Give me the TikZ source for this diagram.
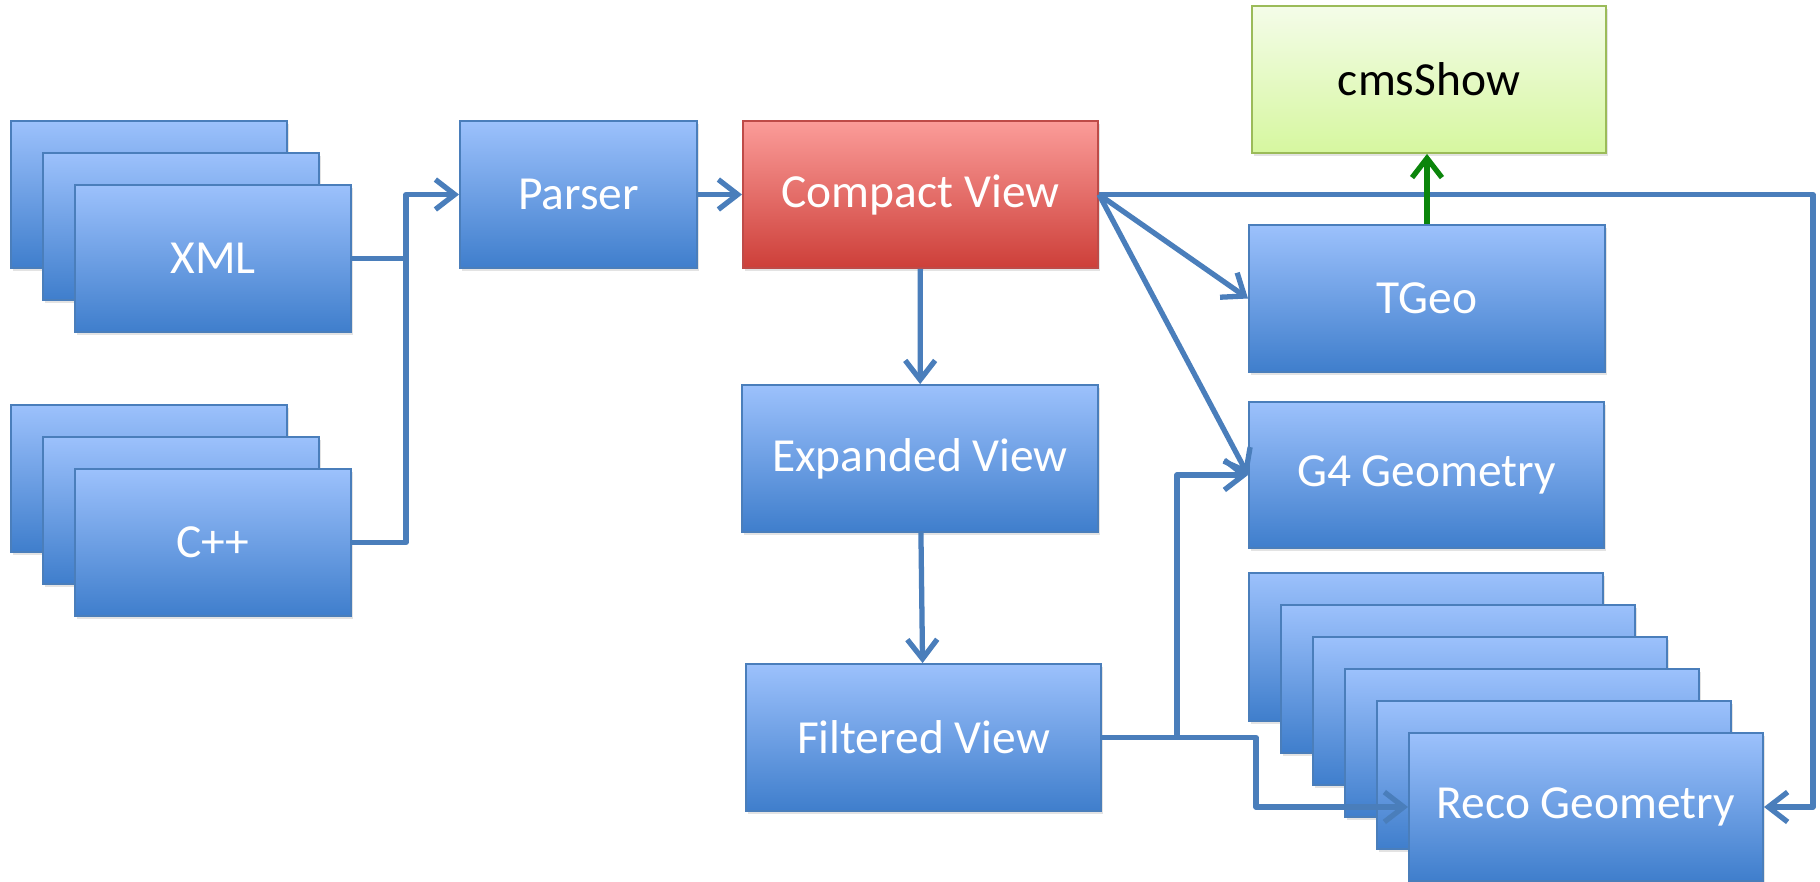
\documentclass[tikz,border=0pt]{standalone}
\usepackage{fontspec}
\setmainfont{Carlito}
\usetikzlibrary{arrows.meta,shadows}

\definecolor{linkblue}{HTML}{4A7EBB}
\definecolor{bluetop}{HTML}{9CC1FC}
\definecolor{bluebot}{HTML}{3F7ECC}
\definecolor{redtop}{HTML}{FB9C99}
\definecolor{redbot}{HTML}{CD3F39}
\definecolor{redline}{HTML}{BE4B48}
\definecolor{greentop}{HTML}{F4FCE9}
\definecolor{greenbot}{HTML}{D6F79F}
\definecolor{greenline}{HTML}{9BBB59}
\definecolor{showgreen}{HTML}{0B850B}

\tikzset{
  box/.style={rectangle, inner sep=0pt, line width=0.5pt, minimum height=1.47cm,
    font=\fontsize{13.5}{16}\selectfont, text=white,
    drop shadow={shadow xshift=0.6pt, shadow yshift=-0.9pt, opacity=0.22}},
  bluebox/.style={box, draw=linkblue, top color=bluetop, bottom color=bluebot},
  redbox/.style={box, draw=redline, top color=redtop, bottom color=redbot},
  greenbox/.style={box, draw=greenline, top color=greentop, bottom color=greenbot, text=black},
  conn/.style={draw=linkblue, line width=1.5pt, line join=round},
  arr/.style={conn, -{Straight Barb[length=5.5pt, width=8.5pt, line width=1.5pt]}},
  garr/.style={arr, draw=showgreen}
}

\begin{document}
\begin{tikzpicture}[x=0.01cm, y=-0.01cm]
\useasboundingbox (0,0) rectangle (1820,881);

% source stacks
\foreach \k in {0,1} {
  \node[bluebox, minimum width=2.76cm] (xml\k) at ({149+32*\k},{194.5+32*\k}) {};
  \node[bluebox, minimum width=2.76cm] (cpp\k) at ({149+32*\k},{478.5+32*\k}) {};
}
\node[bluebox, minimum width=2.76cm] (xml) at (213,258.5) {XML};
\node[bluebox, minimum width=2.76cm] (cpp) at (213,542.5) {C++};

\node[bluebox, minimum width=2.37cm] (parser) at (578.5,194.5) {Parser};
\node[redbox, minimum width=3.55cm] (compact) at (920.5,194.5) {Compact View};
\node[bluebox, minimum width=3.56cm] (expanded) at (920,458.5) {Expanded View};
\node[bluebox, minimum width=3.55cm] (filtered) at (923.5,737.5) {Filtered View};

\node[greenbox, minimum width=3.54cm] (cmsshow) at (1429,79.5) {cmsShow};
\node[bluebox, minimum width=3.56cm] (tgeo) at (1427,298.5) {TGeo};
\node[bluebox, minimum width=3.55cm, minimum height=1.46cm] (g4) at (1426.5,475) {G4 Geometry};

% reco stack
\foreach \k in {0,...,4}
  \node[bluebox, minimum width=3.54cm, minimum height=1.48cm] (reco\k) at ({1426+32*\k},{647+32*\k}) {};
\node[bluebox, minimum width=3.54cm, minimum height=1.48cm] (reco) at (1586,807) {Reco Geometry};

% links
\draw[conn] (xml.east) -- ++(54,0);
\draw[arr] (cpp.east) -- ++(54,0) |- (parser.west);
\draw[arr] (parser) -- (compact);
\draw[arr] (compact) -- (expanded);
\draw[arr] (expanded) -- (filtered);
\draw[arr] (compact.east) -- (tgeo.west);
\draw[arr] (compact.east) -- (g4.west);
\draw[arr] (compact.east) -- ++(714,0) |- (reco.east);
\draw[arr] (filtered.east) -- ++(75,0) |- (g4.west);
\draw[arr] (filtered.east) -- ++(154,0) |- (reco.west);
\draw[garr] (tgeo.north) -- (tgeo.north |- cmsshow.south);
\end{tikzpicture}
\end{document}
